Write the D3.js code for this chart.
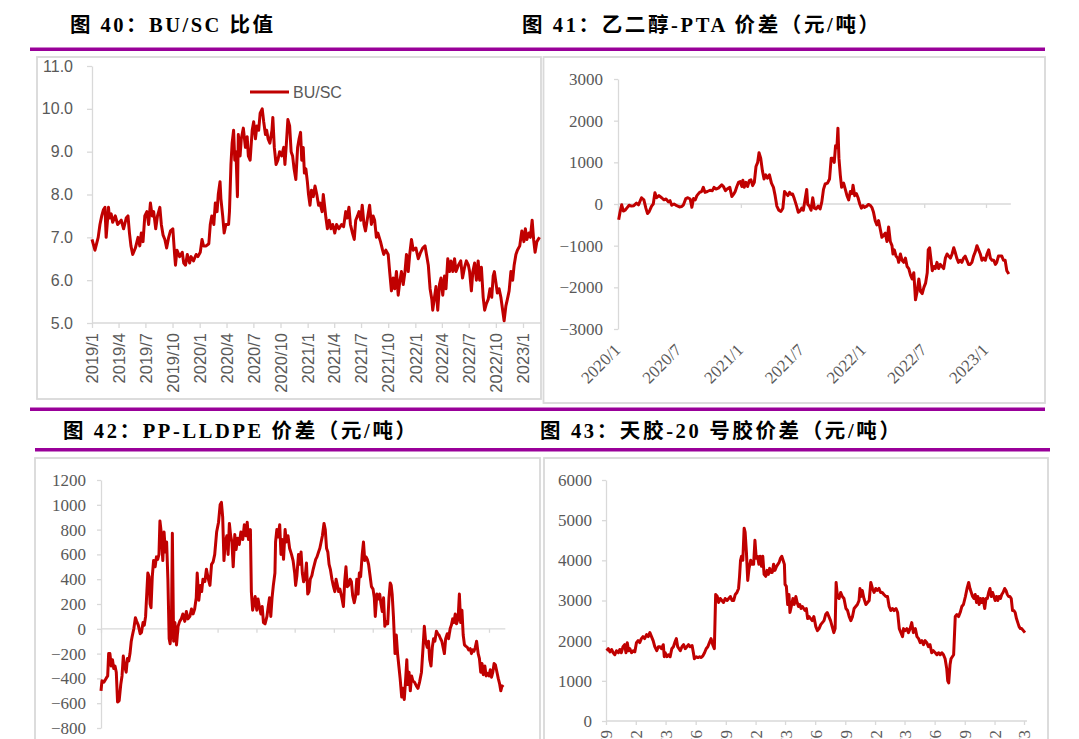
<!DOCTYPE html>
<html><head><meta charset="utf-8">
<script src="https://cdn.jsdelivr.net/npm/d3@7"></script>
<style>body{margin:0;background:#fff}svg{display:block}</style>
</head><body>
<svg id="c" width="1079" height="739"></svg>
<script>
// ---------------- DATA ----------------
const titles = ["图 40：BU/SC 比值", "图 41：乙二醇-PTA 价差（元/吨）", "图 42：PP-LLDPE 价差（元/吨）", "图 43：天胶-20 号胶价差（元/吨）"];
const legendLabel = "BU/SC";

// Fig 40 BU/SC ratio
const buDates = [
"2019-01-01","2019-01-11","2019-01-22","2019-01-28","2019-02-03","2019-02-09","2019-02-14","2019-02-18","2019-02-26","2019-03-01","2019-03-07","2019-03-12","2019-03-21","2019-03-29",
"2019-04-10","2019-04-18","2019-04-27","2019-05-03","2019-05-08","2019-05-13","2019-05-19","2019-05-28","2019-06-06","2019-06-12","2019-06-17","2019-06-23","2019-06-29",
"2019-07-06","2019-07-12","2019-07-18","2019-07-24","2019-07-29","2019-08-05","2019-08-11","2019-08-19","2019-08-24","2019-08-30","2019-09-05","2019-09-11","2019-09-18","2019-09-24",
"2019-10-02","2019-10-08","2019-10-11","2019-10-16","2019-10-25","2019-11-03","2019-11-08","2019-11-14","2019-11-20","2019-11-28","2019-12-03","2019-12-11","2019-12-20","2019-12-26",
"2020-01-03","2020-01-09","2020-01-14","2020-01-23","2020-02-01","2020-02-06","2020-02-11","2020-02-18","2020-02-23","2020-02-29","2020-03-04","2020-03-10","2020-03-13","2020-03-19","2020-03-24","2020-03-30",
"2020-04-08","2020-04-11","2020-04-16","2020-04-20","2020-04-25","2020-04-29","2020-05-03","2020-05-08","2020-05-11","2020-05-17","2020-05-21","2020-05-28","2020-06-04","2020-06-10","2020-06-14","2020-06-20","2020-06-27",
"2020-07-02","2020-07-08","2020-07-13","2020-07-19","2020-07-24","2020-07-31","2020-08-05","2020-08-11","2020-08-15","2020-08-20","2020-08-26","2020-09-02","2020-09-05","2020-09-10","2020-09-16","2020-09-22","2020-09-28",
"2020-10-05","2020-10-12","2020-10-16","2020-10-21","2020-10-26","2020-11-01","2020-11-06","2020-11-11","2020-11-16","2020-11-22","2020-11-28","2020-12-03","2020-12-08","2020-12-12","2020-12-17","2020-12-21","2020-12-26","2020-12-31",
"2021-01-04","2021-01-09","2021-01-14","2021-01-20","2021-01-26","2021-02-01","2021-02-07","2021-02-12","2021-02-19","2021-02-23","2021-02-28","2021-03-04","2021-03-09","2021-03-15","2021-03-21","2021-03-27",
"2021-04-03","2021-04-09","2021-04-17","2021-04-26","2021-05-03","2021-05-10","2021-05-15","2021-05-21","2021-05-26","2021-06-02","2021-06-08","2021-06-13","2021-06-19","2021-06-24","2021-06-30",
"2021-07-05","2021-07-11","2021-07-16","2021-07-24","2021-07-30","2021-08-05","2021-08-11","2021-08-16","2021-08-22","2021-08-27","2021-09-05","2021-09-12","2021-09-16","2021-09-23",
"2021-10-01","2021-10-06","2021-10-12","2021-10-18","2021-10-23","2021-10-29","2021-11-04","2021-11-10","2021-11-15","2021-11-21","2021-11-27","2021-12-02","2021-12-08","2021-12-13","2021-12-19","2021-12-25",
"2022-01-03","2022-01-11","2022-01-19","2022-01-26","2022-02-03","2022-02-09","2022-02-14","2022-02-20","2022-02-26","2022-03-01","2022-03-07","2022-03-12","2022-03-18","2022-03-24","2022-03-29",
"2022-04-04","2022-04-10","2022-04-15","2022-04-21","2022-04-27","2022-05-02","2022-05-08","2022-05-14","2022-05-19","2022-05-27","2022-06-04","2022-06-10","2022-06-17","2022-06-23","2022-06-30",
"2022-07-04","2022-07-10","2022-07-15","2022-07-21","2022-07-27","2022-08-02","2022-08-07","2022-08-13","2022-08-19","2022-08-24","2022-08-30","2022-09-05","2022-09-11","2022-09-17","2022-09-22","2022-09-26",
"2022-10-01","2022-10-06","2022-10-12","2022-10-18","2022-10-23","2022-10-29","2022-11-04","2022-11-09","2022-11-15","2022-11-21","2022-11-27","2022-12-02","2022-12-08","2022-12-13","2022-12-21","2022-12-28",
"2023-01-04","2023-01-09","2023-01-14","2023-01-21","2023-01-26","2023-02-01","2023-02-06","2023-02-11","2023-02-17","2023-02-26"];
const buValues = [
6.95,6.7,7.0,7.3,7.5,7.65,7.7,7.0,7.7,7.45,7.55,7.35,7.5,7.3,
7.4,7.2,7.45,7.5,7.1,6.8,6.6,6.75,7.0,6.8,7.1,6.9,7.5,
7.6,7.3,7.8,7.5,7.6,7.2,7.5,7.7,7.3,7.05,6.95,6.75,7.0,7.15,
7.2,6.6,6.35,6.7,6.55,6.65,6.4,6.35,6.6,6.4,6.55,6.45,6.6,6.55,
6.65,6.95,6.8,6.8,6.85,7.3,7.5,7.3,7.8,7.6,8.0,8.3,7.9,7.5,7.1,7.3,
7.3,7.6,8.7,9.2,9.5,8.8,9.0,7.95,9.4,8.9,9.3,9.55,9.1,9.35,8.9,8.8,9.5,
9.7,9.3,9.6,9.5,9.9,10.0,9.7,9.4,9.5,9.3,9.2,9.5,9.8,9.1,8.7,8.8,9.0,
8.9,9.1,8.7,9.2,9.75,9.6,9.0,8.9,8.6,8.35,9.1,9.3,9.45,8.8,9.1,8.5,8.6,8.3,
8.0,7.75,8.1,7.95,8.2,8.0,7.75,7.8,7.6,8.0,7.7,7.45,7.2,7.4,7.2,7.3,
7.1,7.3,7.2,7.3,7.25,7.6,7.45,7.7,7.3,7.1,6.95,7.4,7.5,7.6,7.4,
7.75,7.3,7.15,7.5,7.75,7.3,7.5,7.4,7.0,7.1,6.9,6.7,6.6,6.7,
6.6,6.2,5.75,6.05,5.8,6.2,5.65,6.0,6.2,5.9,6.2,6.6,6.2,6.6,6.95,6.7,
6.75,6.5,6.65,6.75,6.8,6.55,6.35,5.8,5.55,5.3,5.6,5.85,5.3,5.9,6.05,
5.65,6.1,5.8,6.5,6.2,6.45,6.2,6.5,6.2,6.35,6.45,6.05,6.3,6.45,6.35,
6.2,5.75,6.2,6.4,6.0,6.45,6.0,6.3,5.6,5.3,5.45,5.55,5.8,5.6,6.1,6.2,
5.95,5.7,5.8,5.6,5.35,5.05,5.4,5.55,5.75,6.2,6.0,6.35,6.6,6.7,6.8,7.15,
6.9,7.2,6.95,7.1,7.0,7.4,6.95,6.65,6.9,7.0];
const buYTicks = [5, 6, 7, 8, 9, 10, 11];
const buXTicks = ["2019-01-01","2019-04-01","2019-07-01","2019-10-01","2020-01-01","2020-04-01","2020-07-01","2020-10-01","2021-01-01","2021-04-01","2021-07-01","2021-10-01","2022-01-01","2022-04-01","2022-07-01","2022-10-01","2023-01-01"];

// Fig 41 MEG - PTA spread
const megDates = [
"2020-01-03","2020-01-07","2020-01-12","2020-01-17","2020-01-22","2020-01-29","2020-02-03","2020-02-10","2020-02-17","2020-02-25","2020-03-02","2020-03-11","2020-03-18","2020-03-24","2020-03-29",
"2020-04-03","2020-04-10","2020-04-15","2020-04-20","2020-04-25","2020-05-02","2020-05-10","2020-05-17","2020-05-23","2020-05-30","2020-06-04","2020-06-09","2020-06-16","2020-06-24",
"2020-07-02","2020-07-09","2020-07-14","2020-07-21","2020-07-27","2020-08-03","2020-08-08","2020-08-13","2020-08-18","2020-08-23","2020-08-31","2020-09-06","2020-09-11","2020-09-16","2020-09-23",
"2020-10-01","2020-10-08","2020-10-13","2020-10-19","2020-10-26","2020-11-05","2020-11-10","2020-11-16","2020-11-21","2020-11-29","2020-12-05","2020-12-10","2020-12-15","2020-12-20","2020-12-25","2020-12-30",
"2021-01-04","2021-01-07","2021-01-11","2021-01-16","2021-01-21","2021-01-26","2021-01-31","2021-02-05","2021-02-10","2021-02-15","2021-02-20","2021-02-24","2021-03-01","2021-03-06","2021-03-11","2021-03-16","2021-03-21","2021-03-27",
"2021-04-02","2021-04-08","2021-04-13","2021-04-18","2021-04-24","2021-04-30","2021-05-06","2021-05-11","2021-05-16","2021-05-21","2021-05-26","2021-05-31","2021-06-04","2021-06-09","2021-06-16","2021-06-21","2021-06-26",
"2021-07-01","2021-07-06","2021-07-11","2021-07-16","2021-07-19","2021-07-24","2021-07-29","2021-08-03","2021-08-08","2021-08-13","2021-08-19","2021-08-25","2021-08-30","2021-09-04","2021-09-09","2021-09-16","2021-09-22","2021-09-27",
"2021-10-01","2021-10-06","2021-10-10","2021-10-14","2021-10-17","2021-10-20","2021-10-24","2021-10-28","2021-11-03","2021-11-08","2021-11-13","2021-11-18","2021-11-23","2021-11-28","2021-12-01","2021-12-06","2021-12-11","2021-12-16","2021-12-21","2021-12-26","2021-12-31",
"2022-01-04","2022-01-11","2022-01-16","2022-01-21","2022-01-26","2022-01-31","2022-02-05","2022-02-10","2022-02-15","2022-02-20","2022-02-25","2022-03-02","2022-03-07","2022-03-12","2022-03-17","2022-03-22","2022-03-27","2022-03-30",
"2022-04-03","2022-04-08","2022-04-13","2022-04-16","2022-04-21","2022-04-26","2022-05-01","2022-05-06","2022-05-11","2022-05-16","2022-05-21","2022-05-26","2022-05-31","2022-06-05","2022-06-10","2022-06-15","2022-06-20","2022-06-25","2022-06-30",
"2022-07-05","2022-07-10","2022-07-13","2022-07-17","2022-07-20","2022-07-25","2022-07-30","2022-08-03","2022-08-08","2022-08-13","2022-08-18","2022-08-23","2022-08-28","2022-09-02","2022-09-07","2022-09-12","2022-09-17","2022-09-22","2022-09-27",
"2022-10-01","2022-10-06","2022-10-11","2022-10-16","2022-10-21","2022-10-26","2022-10-31","2022-11-05","2022-11-10","2022-11-15","2022-11-20","2022-11-25","2022-11-30","2022-12-05","2022-12-10","2022-12-15","2022-12-20","2022-12-25","2022-12-30",
"2023-01-04","2023-01-09","2023-01-14","2023-01-19","2023-01-24","2023-01-29","2023-02-02","2023-02-07","2023-02-12","2023-02-17","2023-02-22","2023-02-27","2023-03-04","2023-03-10"];
const megValues = [
-380,-200,-20,-170,-150,-80,-30,-50,-40,20,-20,150,100,-100,-230,
-180,-50,0,270,150,200,150,100,120,50,80,-30,0,-40,
-70,-60,-20,130,150,120,-80,130,100,200,280,300,400,280,300,
330,320,400,360,380,460,420,320,360,400,180,230,300,420,520,540,
420,570,400,520,420,560,580,440,520,900,1000,1230,1100,800,600,700,620,700,
500,400,200,-50,-150,-180,-100,300,250,200,280,230,240,130,-50,-200,-170,
-100,-150,100,350,-10,-50,-150,150,-100,-120,-50,-120,50,350,480,500,600,1100,
1100,1000,1400,1350,1820,1100,700,400,500,350,200,100,300,250,450,200,250,150,0,-100,-40,
-80,-50,-10,-30,-80,-200,-400,-500,-400,-600,-800,-750,-700,-900,-550,-900,-1000,-1200,
-1100,-1250,-1300,-1400,-1200,-1350,-1400,-1300,-1500,-1550,-1700,-1800,-1650,-2300,-2100,-1800,-2100,-2150,-2000,
-1900,-1650,-1100,-1050,-1250,-1600,-1500,-1550,-1400,-1550,-1450,-1500,-1550,-1300,-1200,-1250,-1300,-1200,-1050,
-1150,-1300,-1400,-1350,-1400,-1300,-1250,-1350,-1450,-1450,-1400,-1250,-1150,-1000,-1100,-1200,-1350,-1300,-1350,
-1200,-1100,-1300,-1350,-1350,-1450,-1400,-1250,-1250,-1250,-1350,-1350,-1600,-1680];
const megYTicks = [-3000, -2000, -1000, 0, 1000, 2000, 3000];
const megXTicks = ["2020-01-01","2020-07-01","2021-01-01","2021-07-01","2022-01-01","2022-07-01","2023-01-01"];

// Fig 42 PP - LLDPE spread
const ppDates = [
"2019-09-01","2019-09-04","2019-09-10","2019-09-17","2019-09-22","2019-09-25","2019-09-29",
"2019-10-03","2019-10-07","2019-10-11","2019-10-15","2019-10-19","2019-10-23","2019-10-28","2019-11-02","2019-11-06","2019-11-10","2019-11-14","2019-11-19","2019-11-23","2019-11-27","2019-12-01","2019-12-05","2019-12-08","2019-12-13","2019-12-18","2019-12-22","2019-12-27",
"2020-01-02","2020-01-06","2020-01-11","2020-01-15","2020-01-19","2020-01-23","2020-01-26","2020-01-30","2020-02-02","2020-02-05","2020-02-09","2020-02-13","2020-02-18","2020-02-22","2020-02-26","2020-03-01","2020-03-04","2020-03-08","2020-03-13","2020-03-17","2020-03-21","2020-03-25","2020-03-29",
"2020-04-02","2020-04-05","2020-04-09","2020-04-12","2020-04-16","2020-04-20","2020-04-25","2020-04-30","2020-05-05","2020-05-10","2020-05-15","2020-05-21","2020-05-26","2020-05-31","2020-06-06","2020-06-11","2020-06-16","2020-06-21","2020-06-26","2020-06-29",
"2020-07-04","2020-07-09","2020-07-13","2020-07-17","2020-07-23","2020-07-28","2020-08-03","2020-08-08","2020-08-13","2020-08-18","2020-08-23","2020-08-29","2020-09-04","2020-09-09","2020-09-13","2020-09-17","2020-09-21","2020-09-25","2020-09-30",
"2020-10-04","2020-10-08","2020-10-12","2020-10-16","2020-10-20","2020-10-25","2020-10-29","2020-11-03","2020-11-08","2020-11-13","2020-11-19","2020-11-24","2020-11-29","2020-12-03","2020-12-07","2020-12-13","2020-12-16","2020-12-20","2020-12-24","2020-12-28",
"2021-01-02","2021-01-06","2021-01-10","2021-01-15","2021-01-19","2021-01-23","2021-01-28","2021-02-03","2021-02-07","2021-02-11","2021-02-15","2021-02-19","2021-02-23","2021-02-28","2021-03-02","2021-03-06","2021-03-10","2021-03-15","2021-03-19","2021-03-23","2021-03-27",
"2021-04-01","2021-04-05","2021-04-10","2021-04-15","2021-04-21","2021-04-26","2021-05-01","2021-05-04","2021-05-08","2021-05-13","2021-05-17","2021-05-21","2021-05-25","2021-05-29","2021-06-03","2021-06-07","2021-06-11","2021-06-15","2021-06-19","2021-06-24","2021-06-28",
"2021-07-02","2021-07-06","2021-07-10","2021-07-15","2021-07-19","2021-07-23","2021-07-27","2021-08-01","2021-08-05","2021-08-09","2021-08-13","2021-08-17","2021-08-21","2021-08-26","2021-08-30","2021-09-04","2021-09-08","2021-09-12","2021-09-16","2021-09-20","2021-09-26",
"2021-10-01","2021-10-05","2021-10-09","2021-10-13","2021-10-17","2021-10-22","2021-10-26","2021-10-30","2021-11-04","2021-11-08","2021-11-12","2021-11-16","2021-11-20","2021-11-24","2021-11-29","2021-12-03","2021-12-07","2021-12-11","2021-12-15","2021-12-19","2021-12-23","2021-12-28",
"2022-01-02","2022-01-06","2022-01-09","2022-01-14","2022-01-19","2022-01-23","2022-01-27","2022-01-31","2022-02-04","2022-02-08","2022-02-12","2022-02-17","2022-02-21","2022-02-25","2022-02-28","2022-03-03","2022-03-07","2022-03-12","2022-03-16","2022-03-20","2022-03-24","2022-03-28",
"2022-04-02","2022-04-06","2022-04-10","2022-04-14","2022-04-18","2022-04-21","2022-04-25","2022-04-29","2022-05-03","2022-05-07","2022-05-12","2022-05-18","2022-05-23","2022-05-28","2022-06-03","2022-06-08","2022-06-12","2022-06-16","2022-06-21","2022-06-25","2022-06-29",
"2022-07-03","2022-07-07","2022-07-11","2022-07-15","2022-07-20","2022-07-24","2022-07-28","2022-08-02","2022-08-06","2022-08-10","2022-08-14","2022-08-18","2022-08-23","2022-08-27","2022-09-01","2022-09-05","2022-09-09","2022-09-13","2022-09-17","2022-09-21","2022-09-26","2022-09-30",
"2022-10-04","2022-10-08","2022-10-12","2022-10-16","2022-10-20","2022-10-25","2022-10-29","2022-11-03","2022-11-07","2022-11-11","2022-11-15","2022-11-19","2022-11-23","2022-11-28","2022-12-02","2022-12-06","2022-12-10","2022-12-14","2022-12-19","2022-12-23","2022-12-27",
"2023-01-01","2023-01-05","2023-01-09","2023-01-13","2023-01-17","2023-01-21","2023-01-26","2023-01-30","2023-02-03","2023-02-07","2023-02-11","2023-02-15"];
const ppValues = [
-500,-420,-430,-400,-380,-200,-200,
-300,-250,-320,-300,-350,-590,-580,-450,-380,-220,-300,-350,-240,-260,-200,-100,-60,0,90,60,30,
-40,-30,50,30,100,300,450,420,200,170,420,550,500,580,560,600,870,780,550,780,620,700,400,
-80,-120,0,770,-100,50,-130,20,60,80,120,60,140,80,100,160,120,160,250,450,
230,350,300,400,380,480,400,350,520,540,600,780,860,1000,1020,900,550,700,750,
600,850,750,700,500,760,640,730,680,780,720,840,750,860,720,800,300,150,200,260,
150,240,180,120,180,50,40,100,180,250,100,250,350,450,700,800,740,840,600,720,560,
800,700,750,650,600,550,450,350,430,600,520,620,450,380,420,530,280,300,400,430,480,
520,560,580,620,650,700,750,850,800,650,620,520,480,400,350,300,400,350,300,320,250,
180,380,500,340,350,400,380,270,210,260,400,280,450,420,600,700,550,580,560,520,440,340,
320,250,100,280,240,280,200,140,250,20,60,40,250,370,350,280,100,-200,-50,-200,-300,-400,
-550,-480,-570,-420,-250,-450,-350,-500,-380,-420,-430,-460,-480,-430,-350,-150,20,-100,-150,-100,-250,
-300,-150,-80,-100,-20,-40,-50,-80,-100,-150,-200,-80,-40,-80,0,30,80,50,120,40,80,280,
50,150,-50,-130,-140,-150,-170,-160,-200,-170,-180,-150,-100,-200,-240,-350,-280,-370,-300,-380,-360,
-380,-330,-390,-350,-280,-290,-350,-400,-440,-500,-460,-470];
const ppYTicks = [-800, -600, -400, -200, 0, 200, 400, 600, 800, 1000, 1200];
const ppXTicks = ["2019-09-01","2020-01-01","2020-05-01","2020-09-01","2021-01-01","2021-05-01","2021-09-01","2022-01-01","2022-05-01","2022-09-01","2023-01-01"];

// Fig 43 natural rubber - TSR20 spread
const rubDates = [
"2019-09-03","2019-09-08","2019-09-13","2019-09-18","2019-09-23","2019-09-28",
"2019-10-03","2019-10-09","2019-10-13","2019-10-18","2019-10-23","2019-10-28","2019-11-01","2019-11-05","2019-11-09","2019-11-13","2019-11-18","2019-11-23","2019-11-28","2019-12-03","2019-12-08","2019-12-13","2019-12-18","2019-12-23","2019-12-28",
"2020-01-03","2020-01-08","2020-01-13","2020-01-18","2020-01-23","2020-01-28","2020-02-03","2020-02-08","2020-02-13","2020-02-18","2020-02-23","2020-02-26","2020-02-29","2020-03-05","2020-03-10","2020-03-15","2020-03-20","2020-03-25","2020-03-29",
"2020-04-03","2020-04-07","2020-04-11","2020-04-15","2020-04-20","2020-04-25","2020-04-30","2020-05-05","2020-05-10","2020-05-15","2020-05-21","2020-05-25","2020-05-28","2020-06-03","2020-06-08","2020-06-13","2020-06-18","2020-06-23","2020-06-28",
"2020-07-03","2020-07-08","2020-07-13","2020-07-18","2020-07-23","2020-07-28","2020-08-01","2020-08-06","2020-08-10","2020-08-15","2020-08-20","2020-08-25","2020-08-30","2020-09-05","2020-09-10","2020-09-15","2020-09-20","2020-09-25","2020-09-30",
"2020-10-05","2020-10-10","2020-10-13","2020-10-16","2020-10-19","2020-10-23","2020-10-27","2020-10-30","2020-11-03","2020-11-07","2020-11-11","2020-11-16","2020-11-21","2020-11-25","2020-11-29","2020-12-03","2020-12-07","2020-12-11","2020-12-15","2020-12-19","2020-12-23","2020-12-27",
"2021-01-01","2021-01-05","2021-01-09","2021-01-13","2021-01-17","2021-01-21","2021-01-25","2021-01-29","2021-02-03","2021-02-07","2021-02-11","2021-02-15","2021-02-19","2021-02-23","2021-02-27","2021-03-01","2021-03-05","2021-03-09","2021-03-13","2021-03-16","2021-03-20","2021-03-25","2021-03-29",
"2021-04-03","2021-04-07","2021-04-11","2021-04-15","2021-04-19","2021-04-23","2021-04-27","2021-05-01","2021-05-05","2021-05-09","2021-05-13","2021-05-18","2021-05-23","2021-05-28","2021-06-03","2021-06-08","2021-06-13","2021-06-18","2021-06-23","2021-06-28",
"2021-07-03","2021-07-08","2021-07-13","2021-07-18","2021-07-23","2021-07-28","2021-08-01","2021-08-04","2021-08-08","2021-08-13","2021-08-18","2021-08-23","2021-08-28","2021-09-03","2021-09-08","2021-09-13","2021-09-18","2021-09-23","2021-09-28",
"2021-10-03","2021-10-08","2021-10-13","2021-10-16","2021-10-19","2021-10-23","2021-10-28","2021-11-03","2021-11-08","2021-11-13","2021-11-18","2021-11-23","2021-11-28","2021-12-03","2021-12-08","2021-12-13","2021-12-18","2021-12-23","2021-12-28",
"2022-01-03","2022-01-08","2022-01-13","2022-01-18","2022-01-23","2022-01-28","2022-02-03","2022-02-08","2022-02-13","2022-02-18","2022-02-23","2022-02-26","2022-03-03","2022-03-08","2022-03-13","2022-03-18","2022-03-23","2022-03-28",
"2022-04-03","2022-04-08","2022-04-13","2022-04-18","2022-04-23","2022-04-28","2022-05-03","2022-05-08","2022-05-13","2022-05-18","2022-05-23","2022-05-28","2022-06-03","2022-06-08","2022-06-13","2022-06-18","2022-06-23","2022-06-28",
"2022-07-03","2022-07-08","2022-07-11","2022-07-14","2022-07-18","2022-07-21","2022-07-25","2022-07-29","2022-08-03","2022-08-08","2022-08-13","2022-08-18","2022-08-23","2022-08-28","2022-09-03","2022-09-08","2022-09-13","2022-09-17","2022-09-21","2022-09-25","2022-09-29",
"2022-10-03","2022-10-07","2022-10-11","2022-10-15","2022-10-19","2022-10-23","2022-10-27","2022-11-01","2022-11-05","2022-11-09","2022-11-13","2022-11-17","2022-11-21","2022-11-25","2022-11-29","2022-12-03","2022-12-07","2022-12-11","2022-12-15","2022-12-19","2022-12-23","2022-12-27",
"2023-01-01","2023-01-05","2023-01-09","2023-01-13","2023-01-17","2023-01-21","2023-01-25","2023-01-29","2023-02-02","2023-02-06","2023-02-10","2023-02-14","2023-02-18","2023-02-22","2023-02-27","2023-03-04"];
const rubValues = [
1750,1800,1720,1780,1700,1650,
1750,1700,1780,1700,1850,1900,1700,1950,1750,1800,1700,1750,1720,1950,2000,1950,2050,2100,2050,
2150,2100,2200,2100,2000,1850,1750,1850,1850,1800,1900,1600,1700,1600,1650,1600,1800,1850,1950,
2050,1850,1800,1750,1850,1900,1800,1850,1900,1850,1880,1700,1550,1600,1580,1600,1580,1620,1700,
1800,1850,1950,2050,1900,1800,3150,3100,2950,3050,3000,2950,3050,3000,3050,3100,3000,3000,3150,
3200,3300,3600,4000,4100,4000,4800,4700,4200,3500,3800,4000,3900,3900,4500,4050,4100,3900,4100,3850,4100,3650,
3600,3750,3650,3800,3700,3700,3900,3750,3850,3900,3950,4050,4100,4000,3900,3400,3350,2900,3150,2700,2850,3050,2900,
3100,2950,2850,2900,2800,2850,2800,2750,2800,2550,2600,2550,2500,2600,2350,2250,2300,2400,2450,2500,
2650,2700,2600,2500,2350,2200,2300,3450,3100,3050,3200,3100,3050,2800,2750,2600,2500,2600,2800,
2850,2900,3000,3300,3100,3250,3050,2900,2950,3000,3450,3300,3200,3300,3250,3300,3200,3200,3150,
3100,3100,2850,2750,2800,2750,2800,2700,2300,2200,2100,2300,2250,2300,2200,2300,2450,2200,
2300,2100,2050,1950,2000,1900,2000,1950,1850,1900,1700,1750,1700,1650,1700,1650,1700,1650,
1550,1300,1000,950,1400,1550,1600,1650,2600,2650,2600,2700,2850,2900,3100,3300,3450,3300,3200,3100,3050,
3150,2950,3100,2900,3050,2950,3050,2800,3050,3050,3200,3300,3100,3200,3100,3000,3100,3000,3100,3050,3150,3200,
3300,3250,3150,3100,3100,3050,2750,2750,2700,2550,2450,2350,2300,2300,2250,2200];
const rubYTicks = [0, 1000, 2000, 3000, 4000, 5000, 6000];
const rubXTicks = ["2019-09-01","2019-12-01","2020-03-01","2020-06-01","2020-09-01","2020-12-01","2021-03-01","2021-06-01","2021-09-01","2021-12-01","2022-03-01","2022-06-01","2022-09-01","2022-12-01","2023-03-01"];

// ---------------- DRAWING ----------------
const svg = d3.select("#c");
const parse = d3.timeParse("%Y-%m-%d");
const RED = "#C00000", AXIS = "#D9D9D9", LABEL = "#595959", PURPLE = "#990099";
const SANS = '"Liberation Sans", Arial, sans-serif';
const SERIF = '"Liberation Serif", "Times New Roman", serif';
const TITLEF = '"Liberation Serif", "Noto Sans CJK SC", serif';

// panel frames
const frames = [[37,57,504,342],[543.5,57,501.5,346],[35,458,505,300],[544,458,504,300]];
svg.selectAll("rect.frame").data(frames).join("rect").attr("class","frame")
  .attr("x",d=>d[0]).attr("y",d=>d[1]).attr("width",d=>d[2]).attr("height",d=>d[3])
  .attr("fill","#fff").attr("stroke","#D9D9D9").attr("stroke-width",1.8);

// purple rules
const rules = [[30,47.5,1015],[30,407.5,1015],[35,448,1015]];
svg.selectAll("rect.rule").data(rules).join("rect").attr("class","rule")
  .attr("x",d=>d[0]).attr("y",d=>d[1]).attr("width",d=>d[2]).attr("height",3.5).attr("fill",PURPLE);

// titles (x, baseline y, total advance width)
const titleBox = [[70,32,203],[522,32,357],[63,438,353],[540,438,360]];
svg.selectAll("text.title").data(titles).join("text").attr("class","title")
  .attr("x",(d,i)=>titleBox[i][0]).attr("y",(d,i)=>titleBox[i][1])
  .attr("textLength",(d,i)=>titleBox[i][2]).attr("lengthAdjust","spacing")
  .attr("font-family",TITLEF).attr("font-weight","bold").attr("font-size",20.5).attr("fill","#000")
  .text(d=>d);

function drawPanel(p) {
  const dates = p.dates.map(parse);
  const n = Math.min(dates.length, p.values.length);
  const data = d3.range(n).map(i => ({d: dates[i], v: p.values[i]}));
  const x = d3.scaleTime().domain(p.xDomain.map(parse)).range(p.xRange);
  const y = d3.scaleLinear().domain(d3.extent(p.yTicks)).range(p.yRange);
  const g = svg.append("g");
  const font = p.font, fs = p.fontSize;

  // y axis
  const ya = g.append("g").attr("transform", `translate(${p.xRange[0]},0)`)
    .call(d3.axisLeft(y).tickValues(p.yTicks).tickSize(p.tick).tickSizeOuter(0).tickPadding(p.yPad).tickFormat(p.yFmt));
  ya.select(".domain").attr("stroke", AXIS).attr("stroke-width", 1.3);
  ya.selectAll(".tick line").attr("stroke", AXIS).attr("stroke-width", 1.3);
  ya.selectAll(".tick text").attr("fill", LABEL).attr("font-family", font).attr("font-size", fs);

  // x axis line at baseline value
  const yBase = y(p.xAxisAt);
  const xEnd = x(d3.max(dates)) + p.axisOver;
  g.append("line").attr("x1", p.xRange[0]).attr("x2", xEnd).attr("y1", yBase).attr("y2", yBase)
    .attr("stroke", AXIS).attr("stroke-width", 1.3);
  const xt = g.append("g").attr("transform", `translate(0,${yBase})`)
    .call(d3.axisBottom(x).tickValues(p.xTicks.map(parse)).tickSize(p.tick).tickSizeOuter(0).tickFormat(""));
  xt.select(".domain").remove();
  xt.selectAll(".tick line").attr("stroke", AXIS).attr("stroke-width", 1.3);

  // x labels
  if (p.xLabels) {
    const xl = g.append("g").attr("transform", `translate(0,${y(p.yDomainMin)})`)
      .call(d3.axisBottom(x).tickValues(p.xTicks.map(parse)).tickSize(0).tickFormat(d3.timeFormat("%Y/%-m")));
    xl.select(".domain").remove();
    xl.selectAll(".tick text").attr("fill", LABEL).attr("font-family", font).attr("font-size", p.xFontSize || fs)
      .attr("text-anchor", "end").attr("y", 0).attr("x", 0).attr("dy", p.xDy)
      .attr("transform", p.xLabelTransform);
  }

  // series
  g.append("path").datum(data)
    .attr("d", d3.line().x(d => x(d.d)).y(d => y(d.v)))
    .attr("fill", "none").attr("stroke", RED).attr("stroke-width", 3).attr("stroke-linejoin", "round");
  return {g, x, y};
}

// Fig 40
const p1 = drawPanel({dates: buDates, values: buValues, xDomain: ["2019-01-01","2023-01-01"], xRange: [92, 523],
  yTicks: buYTicks, yRange: [323, 66], yFmt: d3.format(".1f"), tick: 5, yPad: 14, font: SANS, fontSize: 16,
  xAxisAt: 5, axisOver: 2, xTicks: buXTicks, xLabels: true, yDomainMin: 5, xDy: "0.35em",
  xLabelTransform: "translate(0,10) rotate(-90)", xFontSize: 16.5});
// legend
p1.g.append("line").attr("x1", 250).attr("x2", 289).attr("y1", 92).attr("y2", 92).attr("stroke", RED).attr("stroke-width", 3);
p1.g.append("text").attr("x", 293).attr("y", 92).attr("dy", "0.35em").attr("font-family", SANS).attr("font-size", 16)
  .attr("fill", LABEL).text(legendLabel);

// Fig 41
drawPanel({dates: megDates, values: megValues, xDomain: ["2020-01-01","2023-01-01"], xRange: [618, 986],
  yTicks: megYTicks, yRange: [329, 79], yFmt: d3.format(""), tick: 4, yPad: 11, font: SERIF, fontSize: 17,
  xAxisAt: 0, axisOver: 2, xTicks: megXTicks, xLabels: true, yDomainMin: -3000, xDy: "0",
  xLabelTransform: "translate(3,22) rotate(-45)"});

// Fig 42
drawPanel({dates: ppDates, values: ppValues, xDomain: ["2019-09-01","2023-01-01"], xRange: [101, 489],
  yTicks: ppYTicks, yRange: [728, 480], yFmt: d3.format(""), tick: 4, yPad: 11, font: SERIF, fontSize: 17,
  xAxisAt: 0, axisOver: 2, xTicks: ppXTicks, xLabels: false});

// Fig 43
drawPanel({dates: rubDates, values: rubValues, xDomain: ["2019-09-01","2023-03-01"], xRange: [606, 1024],
  yTicks: rubYTicks, yRange: [721, 480], yFmt: d3.format(""), tick: 4, yPad: 10, font: SERIF, fontSize: 17,
  xAxisAt: 0, axisOver: 2, xTicks: rubXTicks, xLabels: true, yDomainMin: 0, xDy: "0.35em",
  xLabelTransform: "translate(0,9) rotate(-90)"});
</script>
</body></html>
